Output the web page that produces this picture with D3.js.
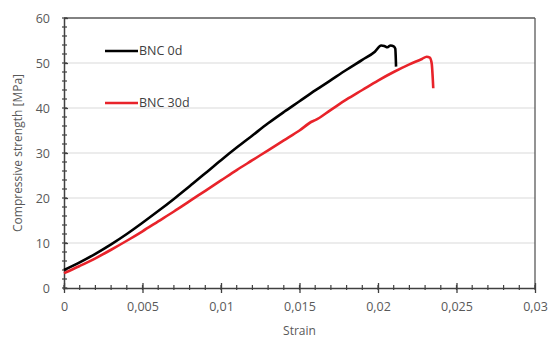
<!DOCTYPE html>
<html lang="en">
<head>
<meta charset="UTF-8">
<title>Compressive strength vs strain</title>
<script src="https://d3js.org/d3.v7.min.js"></script>
<style>
    body { margin: 0; background: #fff; }
    text { font-family: "Open Sans", sans-serif; fill: #595959; }
</style>
</head>
<body>
<div id="chart"></div>
<script>
// BNC 0d: [strain, stress MPa]
var bnc0d = [
    [0, 4.0], [0.001, 5.7], [0.002, 7.6], [0.003, 9.7], [0.004, 12.0], [0.005, 14.5],
    [0.006, 17.1], [0.007, 19.8], [0.008, 22.6], [0.009, 25.5], [0.010, 28.4],
    [0.011, 31.2], [0.012, 33.9], [0.013, 36.6], [0.014, 39.1], [0.015, 41.5],
    [0.016, 43.9], [0.017, 46.2], [0.018, 48.5], [0.019, 50.7], [0.0198, 52.5],
    [0.0202, 53.9], [0.0204, 53.8], [0.0206, 53.5], [0.0208, 53.9], [0.0210, 53.7],
    [0.0211, 53.2], [0.02115, 49.2]
];
// BNC 30d
var bnc30d = [
    [0, 3.3], [0.001, 4.9], [0.002, 6.6], [0.003, 8.5], [0.004, 10.5], [0.005, 12.6],
    [0.006, 14.8], [0.007, 17.0], [0.008, 19.3], [0.009, 21.6], [0.010, 23.9],
    [0.011, 26.2], [0.012, 28.4], [0.013, 30.6], [0.014, 32.8], [0.015, 35.0],
    [0.0158, 37.0], [0.016, 37.3], [0.017, 39.6], [0.018, 41.9], [0.019, 44.0],
    [0.020, 46.1], [0.021, 48.0], [0.022, 49.7], [0.0228, 50.9], [0.0231, 51.4],
    [0.0233, 51.2], [0.02342, 49.9], [0.02352, 44.4]
];
var xTicks = [0, 0.005, 0.01, 0.015, 0.02, 0.025, 0.03];
var xTickLabels = ["0", "0,005", "0,01", "0,015", "0,02", "0,025", "0,03"];
var yTicks = [0, 10, 20, 30, 40, 50, 60];
var seriesNames = ["BNC 0d", "BNC 30d"];
var seriesColors = ["#000000", "#e8232a"];

var width = 550, height = 340;
var margin = {top: 18, right: 15, bottom: 52, left: 64};
var plotW = width - margin.left - margin.right;
var plotH = height - margin.top - margin.bottom;

var svg = d3.select("#chart").append("svg")
    .attr("width", width)
    .attr("height", height);

var g = svg.append("g").attr("transform", "translate(" + margin.left + "," + margin.top + ")");

var x = d3.scaleLinear().domain([0, 0.03]).range([0, plotW]);
var y = d3.scaleLinear().domain([0, 60]).range([plotH, 0]);

// gridlines
g.selectAll(".grid").data(yTicks.slice(1, -1)).enter().append("line")
    .attr("x1", 0).attr("x2", plotW)
    .attr("y1", function(d) { return y(d); })
    .attr("y2", function(d) { return y(d); })
    .style("stroke", "#d9d9d9").style("stroke-width", 1);

// border top/right
g.append("line").attr("x1", 0).attr("x2", plotW).attr("y1", 0).attr("y2", 0)
    .style("stroke", "#595959").style("stroke-width", 1.3);
g.append("line").attr("x1", plotW).attr("x2", plotW).attr("y1", 0).attr("y2", plotH)
    .style("stroke", "#595959").style("stroke-width", 1.3);

// minor ticks
var xMinor = d3.range(0, 31).map(function(i) { return i * 0.001; });
var yMinor = d3.range(0, 31).map(function(i) { return i * 2; });

g.selectAll(".xminor").data(xMinor).enter().append("line")
    .attr("x1", function(d) { return x(d); }).attr("x2", function(d) { return x(d); })
    .attr("y1", plotH - 3).attr("y2", plotH + 2)
    .style("stroke", "#404040").style("stroke-width", 1.2);
g.selectAll(".yminor").data(yMinor).enter().append("line")
    .attr("y1", function(d) { return y(d); }).attr("y2", function(d) { return y(d); })
    .attr("x1", -2).attr("x2", 3)
    .style("stroke", "#404040").style("stroke-width", 1.2);

// x axis
var xAxis = g.append("g")
    .attr("transform", "translate(0," + plotH + ")")
    .call(d3.axisBottom(x).tickValues(xTicks)
        .tickFormat(function(d, i) { return xTickLabels[i]; })
        .tickSizeInner(5).tickSizeOuter(0).tickPadding(9));
xAxis.select(".domain").style("stroke", "#404040").style("stroke-width", 1.5);
xAxis.selectAll(".tick line").attr("y1", -5).style("stroke", "#404040").style("stroke-width", 1.3);
xAxis.selectAll(".tick text").style("font-size", "12.5px").style("fill", "#595959")
    .style("font-family", "'Open Sans', sans-serif");

// y axis
var yAxis = g.append("g")
    .call(d3.axisLeft(y).tickValues(yTicks)
        .tickSizeInner(4).tickSizeOuter(0).tickPadding(10));
yAxis.select(".domain").style("stroke", "#404040").style("stroke-width", 1.5);
yAxis.selectAll(".tick line").attr("x2", 4).style("stroke", "#404040").style("stroke-width", 1.3);
yAxis.selectAll(".tick text").style("font-size", "12.5px").style("fill", "#595959")
    .style("font-family", "'Open Sans', sans-serif");

// curves
var line = d3.line()
    .x(function(d) { return x(d[0]); })
    .y(function(d) { return y(d[1]); })
    .curve(d3.curveMonotoneX);

[bnc0d, bnc30d].forEach(function(s, i) {
    g.append("path").datum(s)
        .attr("d", line)
        .style("fill", "none")
        .style("stroke", seriesColors[i])
        .style("stroke-width", 2.6)
        .style("stroke-linejoin", "round");
});

// legend
var legendY = [51, 103];
seriesNames.forEach(function(name, i) {
    svg.append("line")
        .attr("x1", 105).attr("x2", 138)
        .attr("y1", legendY[i]).attr("y2", legendY[i])
        .style("stroke", seriesColors[i]).style("stroke-width", 2.6);
    svg.append("text")
        .attr("x", 139).attr("y", legendY[i])
        .attr("dy", "0.35em")
        .style("font-size", "12.5px")
        .style("fill", "#404040")
        .text(name);
});

// axis titles
svg.append("text")
    .attr("x", margin.left + plotW / 2).attr("y", 335)
    .attr("text-anchor", "middle")
    .style("font-size", "12px")
    .text("Strain");

svg.append("text")
    .attr("transform", "translate(22," + (margin.top + plotH / 2) + ") rotate(-90)")
    .attr("text-anchor", "middle")
    .style("font-size", "12px")
    .text("Compressive strength [MPa]");
</script>
</body>
</html>
